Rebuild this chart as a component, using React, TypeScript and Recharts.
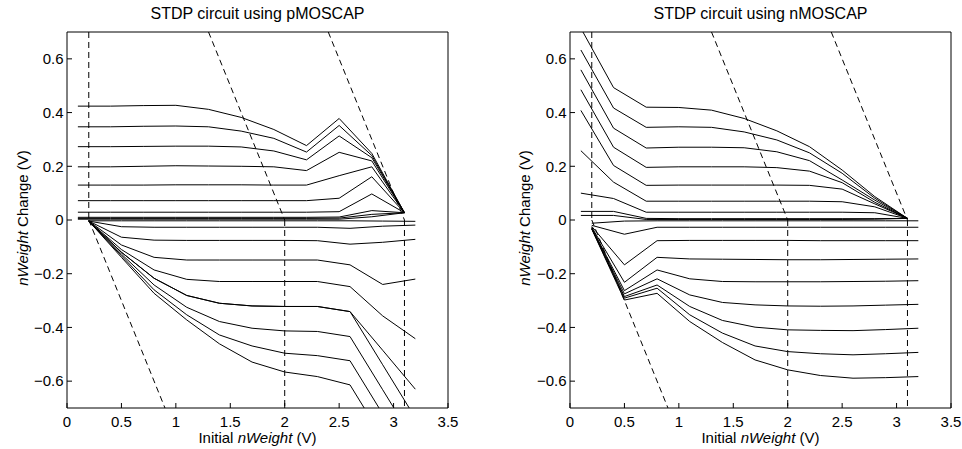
import React from 'react';
import { LineChart, Line, XAxis, YAxis, ReferenceLine } from 'recharts';

const FONT = '"Liberation Sans", Arial, Helvetica, sans-serif';

const xTicks = [0, 0.5, 1, 1.5, 2, 2.5, 3, 3.5];
const yTicks = [-0.6, -0.4, -0.2, 0, 0.2, 0.4, 0.6];

const titles = ['STDP circuit using pMOSCAP', 'STDP circuit using nMOSCAP'];

// initial nWeight samples (V)
const potentiationX = [0.1, 0.4, 0.7, 1.0, 1.3, 1.6, 1.9, 2.2, 2.5, 2.8, 3.1];
const depressionX = [0.2, 0.5, 0.8, 1.1, 1.4, 1.7, 2.0, 2.3, 2.6, 2.9, 3.2];

const pmosPotentiation = [
  [0.424, 0.424, 0.426, 0.427, 0.412, 0.382, 0.337, 0.277, 0.378, 0.248, 0.027],
  [0.347, 0.347, 0.349, 0.350, 0.347, 0.331, 0.304, 0.253, 0.352, 0.240, 0.027],
  [0.273, 0.273, 0.274, 0.275, 0.275, 0.272, 0.257, 0.224, 0.313, 0.232, 0.027],
  [0.198, 0.198, 0.200, 0.202, 0.201, 0.200, 0.198, 0.184, 0.252, 0.220, 0.027],
  [0.130, 0.130, 0.130, 0.131, 0.131, 0.131, 0.130, 0.130, 0.165, 0.198, 0.027],
  [0.072, 0.072, 0.072, 0.072, 0.072, 0.072, 0.072, 0.072, 0.081, 0.161, 0.027],
  [0.029, 0.029, 0.029, 0.029, 0.029, 0.029, 0.029, 0.029, 0.031, 0.097, 0.027],
  [0.010, 0.010, 0.010, 0.010, 0.010, 0.010, 0.010, 0.010, 0.011, 0.035, 0.027],
  [0.006, 0.006, 0.006, 0.006, 0.006, 0.006, 0.006, 0.006, 0.007, 0.021, 0.027],
  [0.003, 0.003, 0.003, 0.003, 0.003, 0.003, 0.003, 0.003, 0.003, 0.012, 0.027],
];

const pmosDepression = [
  [-0.003, -0.003, -0.003, -0.003, -0.003, -0.003, -0.003, -0.003, -0.003, -0.004, -0.005],
  [-0.004, -0.025, -0.027, -0.027, -0.027, -0.027, -0.027, -0.027, -0.031, -0.023, -0.019],
  [-0.004, -0.064, -0.075, -0.076, -0.076, -0.076, -0.076, -0.077, -0.090, -0.083, -0.072],
  [-0.004, -0.093, -0.139, -0.149, -0.149, -0.149, -0.149, -0.149, -0.167, -0.240, -0.220],
  [-0.004, -0.110, -0.186, -0.221, -0.229, -0.229, -0.229, -0.229, -0.248, -0.357, -0.442],
  [-0.004, -0.120, -0.217, -0.281, -0.310, -0.320, -0.322, -0.322, -0.341, -0.539, -0.737],
  [-0.004, -0.127, -0.242, -0.325, -0.378, -0.403, -0.413, -0.415, -0.434, -0.632, -0.830],
  [-0.004, -0.133, -0.260, -0.353, -0.428, -0.469, -0.496, -0.505, -0.524, -0.722, -0.920],
  [-0.004, -0.139, -0.273, -0.372, -0.461, -0.529, -0.566, -0.583, -0.614, -0.812, -1.010],
  [-0.004, -0.120, -0.217, -0.281, -0.310, -0.320, -0.322, -0.322, -0.341, -0.485, -0.630],
];

const nmosPotentiation = [
  [0.714, 0.493, 0.420, 0.419, 0.409, 0.378, 0.332, 0.273, 0.186, 0.087, 0.006],
  [0.633, 0.417, 0.345, 0.347, 0.345, 0.328, 0.298, 0.250, 0.174, 0.081, 0.006],
  [0.559, 0.342, 0.268, 0.271, 0.271, 0.269, 0.254, 0.221, 0.149, 0.074, 0.006],
  [0.485, 0.271, 0.196, 0.198, 0.198, 0.198, 0.195, 0.182, 0.139, 0.066, 0.006],
  [0.408, 0.203, 0.129, 0.130, 0.130, 0.130, 0.130, 0.129, 0.115, 0.060, 0.006],
  [0.258, 0.141, 0.070, 0.070, 0.070, 0.070, 0.070, 0.070, 0.068, 0.049, 0.006],
  [0.100, 0.080, 0.029, 0.029, 0.029, 0.029, 0.029, 0.029, 0.029, 0.027, 0.006],
  [0.032, 0.032, 0.006, 0.005, 0.005, 0.005, 0.005, 0.005, 0.005, 0.005, 0.006],
  [0.017, 0.017, 0.002, 0.002, 0.002, 0.002, 0.002, 0.002, 0.002, 0.003, 0.006],
];

const nmosDepression = [
  [-0.012, -0.004, -0.003, -0.003, -0.003, -0.003, -0.003, -0.003, -0.003, -0.003, -0.003],
  [-0.020, -0.053, -0.027, -0.027, -0.027, -0.027, -0.027, -0.027, -0.027, -0.027, -0.027],
  [-0.024, -0.167, -0.077, -0.076, -0.076, -0.076, -0.076, -0.077, -0.077, -0.077, -0.077],
  [-0.027, -0.232, -0.139, -0.145, -0.146, -0.147, -0.148, -0.148, -0.147, -0.146, -0.145],
  [-0.029, -0.263, -0.186, -0.219, -0.229, -0.230, -0.230, -0.230, -0.229, -0.228, -0.226],
  [-0.031, -0.275, -0.219, -0.279, -0.307, -0.316, -0.320, -0.321, -0.320, -0.317, -0.314],
  [-0.032, -0.285, -0.242, -0.322, -0.374, -0.399, -0.409, -0.411, -0.412, -0.408, -0.403],
  [-0.033, -0.291, -0.254, -0.353, -0.421, -0.469, -0.490, -0.498, -0.502, -0.498, -0.493],
  [-0.034, -0.298, -0.273, -0.378, -0.456, -0.521, -0.558, -0.579, -0.589, -0.587, -0.583],
];

// dashed guide lines: [x1, y1, x2, y2]
const guideSegments = [
  [0.2, 0.7, 0.2, 0],
  [0.2, 0, 0.9, -0.7],
  [1.3, 0.7, 2.0, 0],
  [2.0, 0, 2.0, -0.7],
  [2.4, 0.7, 3.1, 0],
  [3.1, 0, 3.1, -0.7],
];

const fmt = (v: number) => {
  const s = String(Math.round(v * 10) / 10);
  return s.startsWith('-') ? '\u2212' + s.slice(1) : s;
};

const toPoints = (xs: number[], ys: number[]) => xs.map((x, i) => ({ x, y: ys[i] }));

function Panel(props: {
  left: number;
  width: number;
  yAxisWidth: number;
  marginRight: number;
  pos: number[][];
  neg: number[][];
}) {
  const { left, width, yAxisWidth, marginRight, pos, neg } = props;
  const tickStyle = { fill: '#000', fontSize: 15, fontFamily: FONT };
  return (
    <div style={{ position: 'absolute', left, top: 0 }}>
      <LineChart
        width={width}
        height={449}
        margin={{ top: 31, right: marginRight, bottom: 0, left: 0 }}
        style={{ fontFamily: FONT }}
      >
        <XAxis
          xAxisId="b"
          dataKey="x"
          type="number"
          orientation="bottom"
          domain={[0, 3.5]}
          ticks={xTicks}
          interval={0}
          allowDataOverflow
          height={41}
          tickSize={-5}
          tickMargin={13}
          stroke="#000"
          tick={tickStyle}
          tickFormatter={fmt}
        />
        <XAxis
          xAxisId="t"
          dataKey="x"
          type="number"
          orientation="top"
          domain={[0, 3.5]}
          ticks={xTicks}
          interval={0}
          allowDataOverflow
          height={1}
          tickSize={-5}
          stroke="#000"
          tick={false}
        />
        <YAxis
          yAxisId="l"
          type="number"
          orientation="left"
          domain={[-0.7, 0.7]}
          ticks={yTicks}
          interval={0}
          allowDataOverflow
          width={yAxisWidth}
          tickSize={-5}
          tickMargin={8.5}
          stroke="#000"
          tick={tickStyle}
          tickFormatter={fmt}
        />
        <YAxis
          yAxisId="r"
          type="number"
          orientation="right"
          domain={[-0.7, 0.7]}
          ticks={yTicks}
          interval={0}
          allowDataOverflow
          width={1}
          tickSize={-5}
          stroke="#000"
          tick={false}
        />
        {guideSegments.map((g, i) => (
          <ReferenceLine
            key={'g' + i}
            xAxisId="b"
            yAxisId="l"
            segment={[
              { x: g[0], y: g[1] },
              { x: g[2], y: g[3] },
            ]}
            stroke="#000"
            strokeWidth={1}
            strokeDasharray="6 4"
          />
        ))}
        {pos.map((ys, i) => (
          <Line
            key={'p' + i}
            xAxisId="b"
            yAxisId="l"
            data={toPoints(potentiationX, ys)}
            dataKey="y"
            type="linear"
            stroke="#000"
            strokeWidth={1}
            dot={false}
            activeDot={false}
            isAnimationActive={false}
          />
        ))}
        {neg.map((ys, i) => (
          <Line
            key={'n' + i}
            xAxisId="b"
            yAxisId="l"
            data={toPoints(depressionX, ys)}
            dataKey="y"
            type="linear"
            stroke="#000"
            strokeWidth={1}
            dot={false}
            activeDot={false}
            isAnimationActive={false}
          />
        ))}
      </LineChart>
    </div>
  );
}

function AxisTexts(props: { cx: number; yLabelX: number; title: string }) {
  const { cx, yLabelX, title } = props;
  return (
    <g fontFamily={FONT} fill="#000">
      <text x={cx} y={19} textAnchor="middle" fontSize={16}>
        {title}
      </text>
      <text x={cx} y={442.5} textAnchor="middle" fontSize={15}>
        Initial <tspan fontStyle="italic">nWeight</tspan> (V)
      </text>
      <text transform={`translate(${yLabelX},218) rotate(-90)`} textAnchor="middle" fontSize={15}>
        <tspan fontStyle="italic">nWeight</tspan> Change (V)
      </text>
    </g>
  );
}

export default function App() {
  return (
    <div style={{ position: 'absolute', left: 0, top: 0, width: 962, height: 449, background: '#fff' }}>
      <Panel left={0} width={470} yAxisWidth={67} marginRight={21} pos={pmosPotentiation} neg={pmosDepression} />
      <Panel left={480} width={482} yAxisWidth={90} marginRight={10} pos={nmosPotentiation} neg={nmosDepression} />
      <svg
        width={962}
        height={449}
        style={{ position: 'absolute', left: 0, top: 0, pointerEvents: 'none' }}
      >
        <AxisTexts cx={257.5} yLabelX={28} title={titles[0]} />
        <AxisTexts cx={760.5} yLabelX={529.5} title={titles[1]} />
      </svg>
    </div>
  );
}
